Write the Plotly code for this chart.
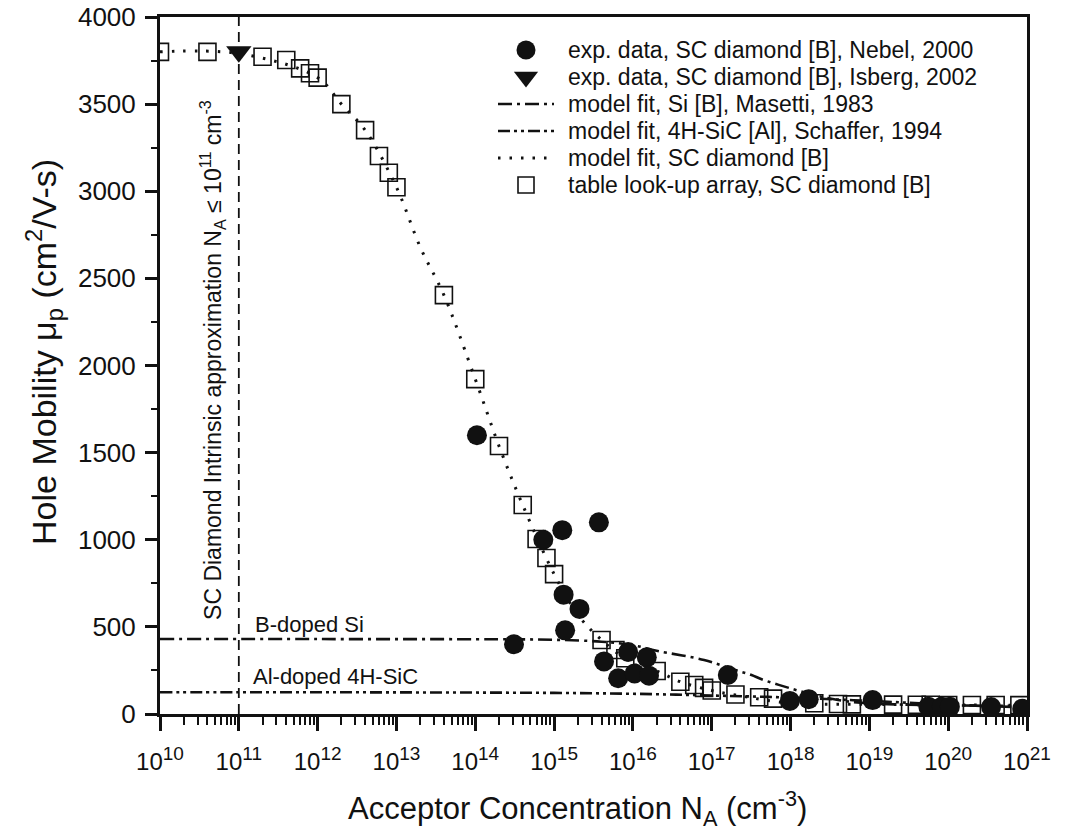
import plotly.graph_objects as go

# ---------------- data ----------------
# exp. data, SC diamond [B], Nebel, 2000
nebel_N = [1.05e14, 3.1e14, 7.3e14, 1.27e15, 3.7e15, 1.32e15, 2.1e15, 1.38e15,
           4.3e15, 6.5e15, 8.7e15, 1.05e16, 1.5e16, 1.6e16, 1.6e17, 9.8e17,
           1.7e18, 1.1e19, 5.6e19, 8.3e19, 1.05e20, 3.5e20, 8.7e20]
nebel_mu = [1600, 400, 1000, 1055, 1100, 685, 603, 480,
            302, 205, 356, 233, 325, 220, 224, 75,
            85, 80, 42, 42, 42, 40, 30]

# exp. data, SC diamond [B], Isberg, 2002
isberg_N = [1e11]
isberg_mu = [3800]

# model fit, Si [B], Masetti, 1983
si_N = [1e10, 1e12, 1e14, 1e15, 4e15, 1e16, 2e16, 8e16, 2e17, 3.2e17, 4.3e17,
        1e18, 2e18, 4e18, 1e19, 1e20, 1e21]
si_mu = [430, 430, 429, 426, 415, 395, 363, 310, 252, 224, 199,
         147, 109, 80, 61, 50, 46]

# model fit, 4H-SiC [Al], Schaffer, 1994
sic_N = [1e10, 1e11, 1e12, 1e13, 1e14, 1e15, 1e16, 1e17, 1e18, 1e19, 1e20, 1e21]
sic_mu = [125, 125, 125, 124, 123, 121, 116, 106, 94, 75, 54, 38]

# model fit, SC diamond [B]
dia_N = [1e10, 1e11, 1e12, 2e12, 4e12, 1e13, 2e13, 4e13, 1e14, 2e14, 4e14,
         1e15, 2e15, 4e15, 1e16, 2e16, 4e16, 1e17, 2e17, 1e18, 1e19, 1e20, 1e21]
dia_mu = [3800, 3790, 3652, 3500, 3351, 3023, 2680, 2404, 1922, 1538, 1199,
          803, 570, 425, 290, 247, 185, 135, 109, 62, 56, 52, 50]

# table look-up array, SC diamond [B]
tab_N = [1e10, 4e10, 2e11, 4e11, 6e11, 8e11, 1e12, 2e12, 4e12, 6e12, 8e12, 1e13,
         4e13, 1e14, 2e14, 4e14, 6e14, 8e14, 1e15, 4e15, 6e15, 8e15, 2e16, 4e16,
         6e16, 8e16, 1e17, 2e17, 4e17, 6e17, 2e18, 4e18, 6e18, 2e19, 4e19, 6e19,
         1e20, 2e20, 4e20, 8e20]
tab_mu = [3800, 3800, 3772, 3753, 3705, 3677, 3652, 3500, 3351, 3202, 3106, 3023,
          2404, 1922, 1538, 1199, 1004, 895, 803, 425, 367, 320, 247, 185,
          166, 150, 135, 112, 96, 88, 62, 57, 55, 54, 53, 53,
          52, 52, 52, 51]

# intrinsic approximation limit
vline_N = [1e11, 1e11]
vline_mu = [0, 4000]

# axis ticks
x_exponents = list(range(10, 22))
x_tickvals = [10.0 ** e for e in x_exponents]
x_ticktext = ['10<sup><span style="font-size:19px">%d</span></sup>' % e for e in x_exponents]
x_minor = [m * 10.0 ** e for e in range(10, 21) for m in range(2, 10)]

# legend entries (in order)
legend_labels = ["exp. data, SC diamond [B], Nebel, 2000",
                 "exp. data, SC diamond [B], Isberg, 2002",
                 "model fit, Si [B], Masetti, 1983",
                 "model fit, 4H-SiC [Al], Schaffer, 1994",
                 "model fit, SC diamond [B]",
                 "table look-up array, SC diamond [B]"]

FONT = "Liberation Sans, Arial, sans-serif"
INK = "#111111"

# line styles
DASH_SI = "14px,5px,3px,5px"
DASH_SIC = "12px,4px,3px,4px,3px,4px"
DASH_DIA = "2.5px,9px"

# plot-area size in px
PW, PH = 867, 697

fig = go.Figure()

fig.add_trace(go.Scatter(x=vline_N, y=vline_mu, mode="lines", showlegend=False,
                         line=dict(color=INK, width=1.8, dash="10px,6px"), hoverinfo="skip"))
fig.add_trace(go.Scatter(x=si_N, y=si_mu, mode="lines", name=legend_labels[2], showlegend=False,
                         line=dict(color=INK, width=2.6, dash=DASH_SI, shape="spline")))
fig.add_trace(go.Scatter(x=sic_N, y=sic_mu, mode="lines", name=legend_labels[3], showlegend=False,
                         line=dict(color=INK, width=2.6, dash=DASH_SIC, shape="spline")))
fig.add_trace(go.Scatter(x=dia_N, y=dia_mu, mode="lines", name=legend_labels[4], showlegend=False,
                         line=dict(color=INK, width=3, dash=DASH_DIA, shape="spline")))
fig.add_trace(go.Scatter(x=tab_N, y=tab_mu, mode="markers", name=legend_labels[5], showlegend=False,
                         marker=dict(symbol="square-open", size=17, color=INK, line=dict(width=1.6, color=INK))))
fig.add_trace(go.Scatter(x=nebel_N, y=nebel_mu, mode="markers", name=legend_labels[0], showlegend=False,
                         marker=dict(symbol="circle", size=20, color=INK, line=dict(width=0))))
fig.add_trace(go.Scatter(x=isberg_N, y=isberg_mu, mode="markers", name=legend_labels[1], showlegend=False,
                         marker=dict(symbol="triangle-down", size=22, color=INK, line=dict(width=0))))

# ---------- legend, drawn on an overlay pixel axis (x2/y2: px from plot's top-left) ----------
LEG_TEXT_X = 406
LEG_SYM_X = 366
LEG_LINE_X0, LEG_LINE_X1 = 338, 394
LEG_ROW0, LEG_ROW_STEP = 33, 27
rows = [LEG_ROW0 + LEG_ROW_STEP * i for i in range(len(legend_labels))]

for lab, ry in zip(legend_labels, rows):
    fig.add_annotation(x=LEG_TEXT_X, y=ry, xref="x2", yref="y2", xanchor="left", yanchor="middle",
                       text=lab, showarrow=False, font=dict(family=FONT, size=23, color=INK))

fig.add_trace(go.Scatter(x=[LEG_SYM_X], y=[rows[0]], xaxis="x2", yaxis="y2", mode="markers",
                         showlegend=False, hoverinfo="skip",
                         marker=dict(symbol="circle", size=19, color=INK, line=dict(width=0))))
fig.add_trace(go.Scatter(x=[LEG_SYM_X], y=[rows[1]], xaxis="x2", yaxis="y2", mode="markers",
                         showlegend=False, hoverinfo="skip",
                         marker=dict(symbol="triangle-down", size=21, color=INK, line=dict(width=0))))
fig.add_trace(go.Scatter(x=[LEG_SYM_X], y=[rows[5]], xaxis="x2", yaxis="y2", mode="markers",
                         showlegend=False, hoverinfo="skip",
                         marker=dict(symbol="square-open", size=16, color=INK, line=dict(width=1.6, color=INK))))
for ry, dsh, w in [(rows[2], DASH_SI, 2.6), (rows[3], DASH_SIC, 2.6), (rows[4], DASH_DIA, 3)]:
    fig.add_shape(type="line", xref="x2", yref="y2", x0=LEG_LINE_X0, x1=LEG_LINE_X1, y0=ry, y1=ry,
                  line=dict(color=INK, width=w, dash=dsh))

ann = dict(font=dict(family=FONT, size=22, color=INK), showarrow=False)
fig.add_annotation(x=10.66, y=2032, xref="x", yref="y", textangle=-90,
                   text="SC Diamond Intrinsic approximation N<sub>A</sub> ≤ 10<sup>11</sup> cm<sup>-3</sup>",
                   font=dict(family=FONT, size=23, color=INK), showarrow=False)
fig.add_annotation(x=11.18, y=516, xref="x", yref="y", xanchor="left",
                   text="B-doped Si", **ann)
fig.add_annotation(x=11.15, y=218, xref="x", yref="y", xanchor="left",
                   text="Al-doped 4H-SiC", **ann)

# axis titles (placed as paper annotations to match the reference position)
fig.add_annotation(x=0.4815, y=-0.135, xref="paper", yref="paper", xanchor="center", yanchor="middle",
                   text="Acceptor Concentration N<sub>A</sub> (cm<sup>-3</sup>)", showarrow=False,
                   font=dict(family=FONT, size=31, color=INK))
fig.add_annotation(x=-0.1338, y=0.5194, xref="paper", yref="paper", xanchor="center", yanchor="middle",
                   textangle=-90, text="Hole Mobility μ<sub>p</sub> (cm<sup>2</sup>/V-s)", showarrow=False,
                   font=dict(family=FONT, size=34, color=INK))

fig.update_layout(
    width=1071, height=833,
    margin=dict(l=160, r=44, t=17, b=119, autoexpand=False),
    paper_bgcolor="white", plot_bgcolor="white",
    font=dict(family=FONT, color=INK),
    showlegend=False,
    xaxis=dict(
        type="log", range=[10, 21], automargin=False,
        showline=True, linewidth=3, linecolor=INK, mirror=True,
        showgrid=False, zeroline=False,
        ticks="outside", ticklen=14, tickwidth=2.6, tickcolor=INK,
        tickmode="array", tickvals=x_tickvals, ticktext=x_ticktext,
        tickfont=dict(family=FONT, size=24, color=INK),
        ticklabelstandoff=10, ticklabeloverflow="allow",
        minor=dict(ticks="outside", ticklen=8, tickwidth=2, tickcolor=INK,
                   tickmode="array", tickvals=x_minor, showgrid=False),
    ),
    yaxis=dict(
        range=[0, 4000], automargin=False,
        showline=True, linewidth=3, linecolor=INK, mirror=True,
        showgrid=False, zeroline=False,
        ticks="outside", ticklen=12, tickwidth=2.6, tickcolor=INK,
        dtick=500, tick0=0,
        tickfont=dict(family=FONT, size=26, color=INK),
        ticklabelstandoff=4, ticklabeloverflow="allow",
        minor=dict(ticks="outside", ticklen=6, tickwidth=2, tickcolor=INK, dtick=250, showgrid=False),
    ),
    xaxis2=dict(overlaying="x", anchor="y2", range=[0, PW], visible=False, fixedrange=True),
    yaxis2=dict(overlaying="y", anchor="x2", range=[PH, 0], visible=False, fixedrange=True),
)

# remove the page's default 8px body margin so the figure fills the 1071x833 window exactly
fig.write_html("out.html",
               config=dict(displayModeBar=False),
               post_script="document.body.style.margin='0px';document.body.style.overflow='hidden';")
